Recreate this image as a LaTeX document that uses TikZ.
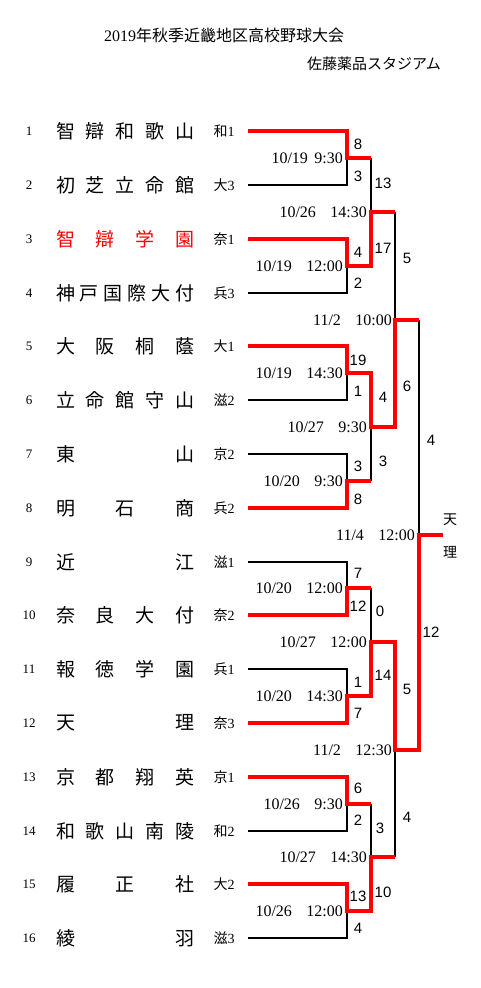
\documentclass[tikz,border=0pt]{standalone}
\usepackage{fontspec}
\setmainfont{Liberation Serif}
\newfontfamily\jpfont{Noto Sans CJK JP}
\newfontfamily\scorefont{Liberation Sans}
\usetikzlibrary{positioning}

\begin{document}
\begin{tikzpicture}[x=1pt,y=-1pt,line cap=butt,line join=miter,
  lose/.style={line width=2pt},
  win/.style={line width=3.8pt,red},
  date/.style={inner sep=0pt,font=\fontsize{16}{16}\selectfont},
  score/.style={inner sep=0pt,font=\scorefont\fontsize{15}{15}\selectfont},
  seed/.style={inner sep=0pt,font=\fontsize{13}{13}\selectfont},
  pref/.style={inner sep=0pt,font=\fontsize{14}{14}\selectfont},
  team/.style={inner sep=0pt,anchor=west,font=\jpfont\fontsize{19}{19}\selectfont}]
  \useasboundingbox (0,0) rectangle (480,988);
  % headings
  \node[inner sep=0pt,font=\fontsize{16}{16}\selectfont] (title) at (224,35) {2019{\jpfont 年秋季近畿地区高校野球大会}};
  \node[inner sep=0pt,font=\jpfont\fontsize{15}{15}\selectfont] (venue) at (374,64) {佐藤薬品スタジアム};
  % team line ends
  \coordinate (t1) at (248,131);
  \coordinate (t2) at (248,185);
  \coordinate (t3) at (248,239);
  \coordinate (t4) at (248,293);
  \coordinate (t5) at (248,346);
  \coordinate (t6) at (248,400);
  \coordinate (t7) at (248,454);
  \coordinate (t8) at (248,508);
  \coordinate (t9) at (248,562);
  \coordinate (t10) at (248,615);
  \coordinate (t11) at (248,669);
  \coordinate (t12) at (248,723);
  \coordinate (t13) at (248,777);
  \coordinate (t14) at (248,831);
  \coordinate (t15) at (248,884);
  \coordinate (t16) at (248,938);
  % first round
  \coordinate (j1) at (347,158);
  \coordinate (j2) at (347,266);
  \coordinate (j3) at (347,373);
  \coordinate (j4) at (347,481);
  \coordinate (j5) at (347,588);
  \coordinate (j6) at (347,696);
  \coordinate (j7) at (347,804);
  \coordinate (j8) at (347,911);
  \coordinate (w1) at (371,158);
  \coordinate (w2) at (371,266);
  \coordinate (w3) at (371,373);
  \coordinate (w4) at (371,481);
  \coordinate (w5) at (371,588);
  \coordinate (w6) at (371,696);
  \coordinate (w7) at (371,804);
  \coordinate (w8) at (371,911);
  % later rounds
  \coordinate (q1) at (395,212);
  \coordinate (q2) at (395,427);
  \coordinate (q3) at (395,642);
  \coordinate (q4) at (395,857);
  \coordinate (s1) at (419,320);
  \coordinate (s2) at (419,750);
  \coordinate (f) at (443,535);
  % losers
  \draw[lose] (t2) -| (j1);
  \draw[lose] (t4) -| (j2);
  \draw[lose] (t6) -| (j3);
  \draw[lose] (t7) -| (j4);
  \draw[lose] (t9) -| (j5);
  \draw[lose] (t11) -| (j6);
  \draw[lose] (t14) -| (j7);
  \draw[lose] (t16) -| (j8);
  \draw[lose] (w1) |- (q1);
  \draw[lose] (w4) |- (q2);
  \draw[lose] (w5) |- (q3);
  \draw[lose] (w7) |- (q4);
  \draw[lose] (q1) |- (s1);
  \draw[lose] (q4) |- (s2);
  \draw[lose] (s1) |- (f);
  % winners
  \draw[win] (t1) -| (j1) -- (w1);
  \draw[win] (t3) -| (j2) -- (w2) |- (q1);
  \draw[win] (t5) -| (j3) -- (w3) |- (q2) |- (s1);
  \draw[win] (t8) -| (j4) -- (w4);
  \draw[win] (t10) -| (j5) -- (w5);
  \draw[win] (t12) -| (j6) -- (w6) |- (q3) |- (s2) |- (f);
  \draw[win] (t13) -| (j7) -- (w7);
  \draw[win] (t15) -| (j8) -- (w8) |- (q4);
  % seeds
  \node[seed] (n1) at (29,131) {1};
  \node[seed] (n2) at (29,185) {2};
  \node[seed] (n3) at (29,239) {3};
  \node[seed] (n4) at (29,293) {4};
  \node[seed] (n5) at (29,346) {5};
  \node[seed] (n6) at (29,400) {6};
  \node[seed] (n7) at (29,454) {7};
  \node[seed] (n8) at (29,508) {8};
  \node[seed] (n9) at (29,562) {9};
  \node[seed] (n10) at (29,615) {10};
  \node[seed] (n11) at (29,669) {11};
  \node[seed] (n12) at (29,723) {12};
  \node[seed] (n13) at (29,777) {13};
  \node[seed] (n14) at (29,831) {14};
  \node[seed] (n15) at (29,884) {15};
  \node[seed] (n16) at (29,938) {16};
  % schools
  \node[team] (a1) at (56,131) {\makebox[138pt]{智\hfill 辯\hfill 和\hfill 歌\hfill 山}};
  \node[team] (a2) at (56,185) {\makebox[138pt]{初\hfill 芝\hfill 立\hfill 命\hfill 館}};
  \node[team,text=red] (a3) at (56,239) {\makebox[138pt]{智\hfill 辯\hfill 学\hfill 園}};
  \node[team] (a4) at (56,293) {\makebox[138pt]{神\hfill 戸\hfill 国\hfill 際\hfill 大\hfill 付}};
  \node[team] (a5) at (56,346) {\makebox[138pt]{大\hfill 阪\hfill 桐\hfill 蔭}};
  \node[team] (a6) at (56,400) {\makebox[138pt]{立\hfill 命\hfill 館\hfill 守\hfill 山}};
  \node[team] (a7) at (56,454) {\makebox[138pt]{東\hfill 山}};
  \node[team] (a8) at (56,508) {\makebox[138pt]{明\hfill 石\hfill 商}};
  \node[team] (a9) at (56,562) {\makebox[138pt]{近\hfill 江}};
  \node[team] (a10) at (56,615) {\makebox[138pt]{奈\hfill 良\hfill 大\hfill 付}};
  \node[team] (a11) at (56,669) {\makebox[138pt]{報\hfill 徳\hfill 学\hfill 園}};
  \node[team] (a12) at (56,723) {\makebox[138pt]{天\hfill 理}};
  \node[team] (a13) at (56,777) {\makebox[138pt]{京\hfill 都\hfill 翔\hfill 英}};
  \node[team] (a14) at (56,831) {\makebox[138pt]{和\hfill 歌\hfill 山\hfill 南\hfill 陵}};
  \node[team] (a15) at (56,884) {\makebox[138pt]{履\hfill 正\hfill 社}};
  \node[team] (a16) at (56,938) {\makebox[138pt]{綾\hfill 羽}};
  % prefecture places
  \node[pref] (p1) at (224,131) {{\jpfont 和}1};
  \node[pref] (p2) at (224,185) {{\jpfont 大}3};
  \node[pref] (p3) at (224,239) {{\jpfont 奈}1};
  \node[pref] (p4) at (224,293) {{\jpfont 兵}3};
  \node[pref] (p5) at (224,346) {{\jpfont 大}1};
  \node[pref] (p6) at (224,400) {{\jpfont 滋}2};
  \node[pref] (p7) at (224,454) {{\jpfont 京}2};
  \node[pref] (p8) at (224,508) {{\jpfont 兵}2};
  \node[pref] (p9) at (224,562) {{\jpfont 滋}1};
  \node[pref] (p10) at (224,615) {{\jpfont 奈}2};
  \node[pref] (p11) at (224,669) {{\jpfont 兵}1};
  \node[pref] (p12) at (224,723) {{\jpfont 奈}3};
  \node[pref] (p13) at (224,777) {{\jpfont 京}1};
  \node[pref] (p14) at (224,831) {{\jpfont 和}2};
  \node[pref] (p15) at (224,884) {{\jpfont 大}2};
  \node[pref] (p16) at (224,938) {{\jpfont 滋}3};
  % dates
  \node[date,left=4pt of j1] (d1) {10/19\hspace{.4em}9:30};
  \node[date,left=4pt of j2] (d2) {10/19\hspace{.9em}12:00};
  \node[date,left=4pt of j3] (d3) {10/19\hspace{.9em}14:30};
  \node[date,left=4pt of j4] (d4) {10/20\hspace{.9em}9:30};
  \node[date,left=4pt of j5] (d5) {10/20\hspace{.9em}12:00};
  \node[date,left=4pt of j6] (d6) {10/20\hspace{.9em}14:30};
  \node[date,left=4pt of j7] (d7) {10/26\hspace{.9em}9:30};
  \node[date,left=4pt of j8] (d8) {10/26\hspace{.9em}12:00};
  \node[date,left=28pt of q1] (e1) {10/26\hspace{.9em}14:30};
  \node[date,left=28pt of q2] (e2) {10/27\hspace{.9em}9:30};
  \node[date,left=28pt of q3] (e3) {10/27\hspace{.9em}12:00};
  \node[date,left=28pt of q4] (e4) {10/27\hspace{.9em}14:30};
  \node[date,left=27pt of s1] (g1) {11/2\hspace{.9em}10:00};
  \node[date,left=27pt of s2] (g2) {11/2\hspace{.9em}12:30};
  \node[date,left=28pt of f] (h1) {11/4\hspace{.9em}12:00};
  % scores
  \node[score] (c1) at (358,144) {8};
  \node[score] (c2) at (358,176) {3};
  \node[score] (c3) at (358,252) {4};
  \node[score] (c4) at (358,283) {2};
  \node[score] (c5) at (358,360) {19};
  \node[score] (c6) at (358,391) {1};
  \node[score] (c7) at (358,466) {3};
  \node[score] (c8) at (358,499) {8};
  \node[score] (c9) at (358,573) {7};
  \node[score] (c10) at (358,606) {12};
  \node[score] (c11) at (358,682) {1};
  \node[score] (c12) at (358,713) {7};
  \node[score] (c13) at (358,788) {6};
  \node[score] (c14) at (358,820) {2};
  \node[score] (c15) at (358,896) {13};
  \node[score] (c16) at (358,928) {4};
  \node[score] (c17) at (383,183) {13};
  \node[score] (c18) at (383,248) {17};
  \node[score] (c19) at (383,397) {4};
  \node[score] (c20) at (383,461) {3};
  \node[score] (c21) at (380,611) {0};
  \node[score] (c22) at (383,675) {14};
  \node[score] (c23) at (380,828) {3};
  \node[score] (c24) at (383,892) {10};
  \node[score] (c25) at (407,258) {5};
  \node[score] (c26) at (407,386) {6};
  \node[score] (c27) at (407,689) {5};
  \node[score] (c28) at (407,817) {4};
  \node[score] (c29) at (431,440) {4};
  \node[score] (c30) at (431,632) {12};
  % champion
  \node[inner sep=0pt,font=\jpfont\fontsize{14}{14}\selectfont] (k1) at (450,520) {天};
  \node[inner sep=0pt,font=\jpfont\fontsize{14}{14}\selectfont] (k2) at (450,552) {理};
\end{tikzpicture}
\end{document}
